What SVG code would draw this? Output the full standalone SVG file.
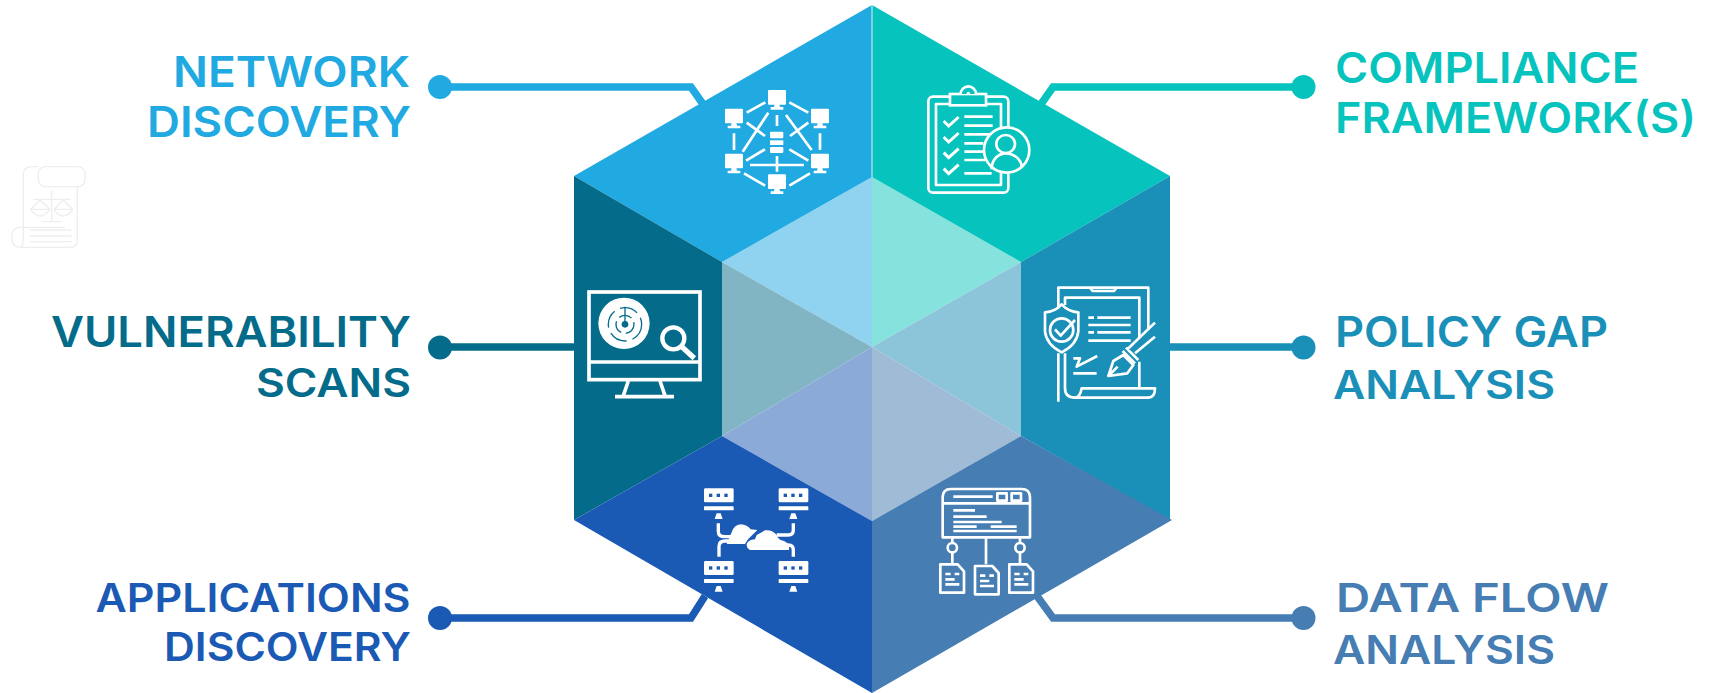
<svg xmlns="http://www.w3.org/2000/svg" xmlns:xlink="http://www.w3.org/1999/xlink" width="1712" height="693" viewBox="0 0 1712 693">
<style>
text{font-family:"Inter","Open Sans","Liberation Sans",sans-serif;font-weight:600;font-size:42px}
.s{font-size:39px}
.ic{fill:none;stroke:#fff;stroke-width:8;stroke-linecap:butt;stroke-linejoin:round}
.f{fill:#fff;stroke:none}
.con{fill:none;stroke-width:7.5;stroke-linejoin:miter}
</style>
<defs>
<g id="mon"><rect x="-27" y="-27" width="54" height="44" rx="3" class="f"/><path class="f" d="M-7 15H7L9 24H19V32H-19V24H-9Z"/></g>
<g id="srv"><rect x="42" y="40" width="89" height="42" rx="4" class="f"/><rect x="42" y="94" width="89" height="12" rx="2" class="f"/><path class="f" d="M80 115H92L98 132H74Z"/><rect x="57" y="56" width="10" height="10" fill="#1a5ab4"/><rect x="80" y="56" width="10" height="10" fill="#1a5ab4"/><rect x="103" y="56" width="10" height="10" fill="#1a5ab4"/></g>
<path id="chk" d="M-21 -2L-6 13L24 -14" fill="none" stroke="#fff" stroke-width="9"/>
<g id="doc"><path class="ic" d="M3 3H55L74 24V88H3Z"/><path class="ic" d="M18 32H34M46 32H60M18 48H46M18 63H60"/></g>
</defs>
<g id="connectors" class="con">
<path stroke="#21a9e1" d="M440 87H691L705 107"/>
<path stroke="#06c3bd" d="M1303 87H1053L1039 107"/>
<path stroke="#046c8a" d="M440 347H580"/>
<path stroke="#1a90b9" d="M1303 347H1165"/>
<path stroke="#1a5ab4" d="M440 618H691L705 596"/>
<path stroke="#467db3" d="M1303 618H1053L1037 596"/>
<g stroke="none">
<circle cx="440" cy="87" r="12" fill="#21a9e1"/>
<circle cx="1303.5" cy="87" r="12" fill="#06c3bd"/>
<circle cx="440" cy="347.500" r="12" fill="#046c8a"/>
<circle cx="1303.5" cy="347.500" r="12" fill="#1a90b9"/>
<circle cx="440" cy="618" r="12" fill="#1a5ab4"/>
<circle cx="1303.5" cy="618" r="12" fill="#467db3"/>
</g>
</g>
<g id="core">
<polygon points="872,177 722,262 872,347" fill="#8fd3f0"/>
<polygon points="872,177 1021,262 872,347" fill="#85e2dc"/>
<polygon points="722,262 872,347 722,436" fill="#82b5c4"/>
<polygon points="1021,262 872,347 1021,436" fill="#8cc4d9"/>
<polygon points="722,436 872,347 872,521" fill="#8baad8"/>
<polygon points="1021,436 872,347 872,521" fill="#9fbbd6"/>
</g>
<g id="network-discovery">
<polygon points="872,5 574,176 722,262 872,177" fill="#21a9e1"/>
<text x="173" y="87" textLength="237" lengthAdjust="spacingAndGlyphs" fill="#21a9e1">NETWORK</text>
<text x="147" y="137" textLength="264" lengthAdjust="spacingAndGlyphs" fill="#21a9e1">DISCOVERY</text>
<g transform="translate(700 70) scale(.3333)">
<use href="#mon" x="231" y="87"/><use href="#mon" x="102" y="143"/><use href="#mon" x="360" y="143"/><use href="#mon" x="102" y="278"/><use href="#mon" x="360" y="278"/><use href="#mon" x="231" y="340"/>
<path class="ic" d="M140 128L196 97M268 97L325 128M102 190V240M360 190V240M132 310L195 347M268 347L330 310M128 245L205 128M258 135L335 240M140 158L195 198M325 158L270 198M231 135V168M138 272L195 238M268 238L325 272M150 285H312M231 258V305"/>
<rect x="210" y="185" width="40" height="20" rx="4" class="f"/><rect x="210" y="211" width="40" height="14" class="f"/><rect x="210" y="231" width="40" height="18" rx="4" class="f"/>
</g>
</g>
<g id="compliance-frameworks">
<polygon points="872,5 1170,176 1021,262 872,177" fill="#06c3bd"/>
<text x="1335" y="83" textLength="304" lengthAdjust="spacingAndGlyphs" fill="#06c3bd">COMPLIANCE</text>
<text x="1335" y="133" textLength="361" lengthAdjust="spacingAndGlyphs" fill="#06c3bd">FRAMEWORK(S)</text>
<g transform="translate(910 70) scale(.3333)">
<rect x="55" y="80" width="240" height="288" rx="14" class="ic"/>
<rect x="78" y="102" width="195" height="243" class="ic"/>
<rect x="120" y="72" width="108" height="34" fill="#06c3bd" stroke="#fff" stroke-width="8"/>
<path d="M152 72A23 23 0 0 1 198 72" fill="#06c3bd" stroke="#fff" stroke-width="8"/>
<circle cx="175" cy="70" r="5" class="f"/>
<use href="#chk" x="122" y="155"/><use href="#chk" x="122" y="203"/><use href="#chk" x="122" y="250"/><use href="#chk" x="122" y="298"/>
<path class="ic" d="M163 140H248M163 167H248M163 193H240M163 220H220M163 245H220M163 270H225M163 310H245"/>
<circle cx="290" cy="240" r="68" fill="#06c3bd" stroke="#fff" stroke-width="8"/>
<ellipse cx="287" cy="222" rx="28" ry="27" class="ic"/>
<path class="ic" d="M245 298C245 265 268 250 287 250C308 250 335 265 335 292"/>
</g>
</g>
<g id="vulnerability-scans">
<polygon points="574,176 722,262 722,436 574,520" fill="#046c8a"/>
<text x="51" y="347" textLength="360" lengthAdjust="spacingAndGlyphs" fill="#046c8a">VULNERABILITY</text>
<text class="s" x="256" y="397" textLength="155" lengthAdjust="spacingAndGlyphs" fill="#046c8a">SCANS</text>
<g transform="translate(570 275) scale(.3333)">
<rect x="57" y="51" width="333" height="263" fill="none" stroke="#fff" stroke-width="11"/>
<path class="ic" stroke-width="11" style="stroke-width:11" d="M57 261H390M175 318L160 362M270 318L285 362M135 365H312"/>
<circle cx="162" cy="145" r="77" class="f"/>
<g fill="none" stroke="#046c8a" stroke-width="4">
<circle cx="165" cy="148" r="27" stroke-dasharray="40 14"/>
<circle cx="165" cy="148" r="50" stroke-dasharray="55 18"/>
<path d="M165 95V148"/>
</g>
<circle cx="165" cy="148" r="10" fill="#046c8a"/>
<circle cx="310" cy="190" r="33" fill="none" stroke="#fff" stroke-width="13"/>
<path d="M335 215L373 250" stroke="#fff" stroke-width="16" fill="none"/>
</g>
</g>
<g id="policy-gap-analysis">
<polygon points="1170,176 1021,262 1021,436 1170,520" fill="#1a90b9"/>
<text x="1335" y="347" textLength="273" lengthAdjust="spacingAndGlyphs" fill="#1a90b9">POLICY GAP</text>
<text class="s" x="1333" y="399" textLength="222" lengthAdjust="spacingAndGlyphs" fill="#1a90b9">ANALYSIS</text>
<g transform="translate(1020 275) scale(.3333)">
<g class="ic">
<path d="M115 100V38H385V165M135 90V68H358V190M210 38L218 48H282L290 38M115 235V380M135 235V340Q135 368 165 368H385Q405 368 405 340H185Q180 368 165 368M358 260V340"/>
<path d="M125 88Q105 110 75 112V170Q80 210 125 232Q170 210 175 170V112Q145 110 125 88Z"/>
<circle cx="125" cy="165" r="35"/>
<path d="M105 163L122 182L165 135M205 128H222M232 128H332M205 150H332M205 172H222M232 172H332M205 197H332M320 225L405 143M345 235L405 185M308 228L345 265M318 218L355 255M265 303L280 258L310 240L340 270L322 295ZM265 303L293 275M160 295H230M160 250H180L170 275L232 243"/>
</g>
</g>
</g>
<g id="applications-discovery">
<polygon points="574,520 722,436 872,521 872,693" fill="#1a5ab4"/>
<text class="s" x="95.500" y="612" textLength="315" lengthAdjust="spacingAndGlyphs" fill="#1a5ab4">APPLICATIONS</text>
<text class="s" x="164" y="661" textLength="247" lengthAdjust="spacingAndGlyphs" fill="#1a5ab4">DISCOVERY</text>
<g transform="translate(690 475) scale(.3333)">
<use href="#srv"/><use href="#srv" x="224"/><use href="#srv" y="218"/><use href="#srv" x="224" y="218"/>
<path class="ic" style="stroke-width:10" d="M85 145V170Q85 185 105 185H125M87 245V215Q87 198 105 198H150M310 145V165Q310 180 295 180H260M310 245V225Q310 210 295 210H260"/>
<path class="f" d="M110 207L125 172Q132 150 152 148Q172 150 182 163L202 165L187 180Q172 192 165 207Z"/>
<path class="f" d="M180 225Q165 215 172 203Q182 193 195 193L200 180L225 166Q247 163 260 180Q264 195 282 198Q300 205 297 225Z"/>
</g>
</g>
<g id="data-flow-analysis">
<polygon points="1172,520 1021,436 872,521 872,693" fill="#467db3"/>
<text class="s" x="1336" y="612" textLength="273" lengthAdjust="spacingAndGlyphs" fill="#467db3">DATA FLOW</text>
<text class="s" x="1333" y="664" textLength="222" lengthAdjust="spacingAndGlyphs" fill="#467db3">ANALYSIS</text>
<g transform="translate(920 475) scale(.3333)">
<path class="ic" d="M68 187V67Q68 42 93 42H305Q330 42 330 67V187ZM68 85H330"/>
<rect x="232" y="55" width="28" height="22" class="ic"/><rect x="275" y="55" width="28" height="22" class="ic"/>
<path class="ic" d="M100 65H218M100 106H165M100 125H200M100 141H245M100 155H170M212 155H290M100 168H290M97 187V205M97 232V265M198 187V268M300 187V205M300 232V265"/>
<circle cx="97" cy="218" r="14" class="ic"/><circle cx="300" cy="218" r="14" class="ic"/>
<use href="#doc" x="58" y="265"/><use href="#doc" x="162" y="270"/><use href="#doc" x="265" y="265"/>
</g>
</g>
<path id="center-seam" d="M872 5V177" stroke="#d8f3f5" stroke-width="1" fill="none"/>
<g id="faint-scroll" transform="translate(0 150) scale(.3333)" fill="none" stroke="#eeeeee" stroke-width="4">
<rect x="115" y="50" width="140" height="60" rx="20"/>
<path d="M70 240V75Q70 50 95 50H115M232 110V270Q232 292 210 292H60Q35 292 35 262Q35 232 60 232H195M70 240V262Q70 292 60 292M155 120V215M125 215H185M100 148H212"/>
<path d="M92 178L120 150L150 178Q135 198 120 198Q105 198 92 178ZM162 178L190 150L218 178Q205 198 190 198Q175 198 162 178ZM92 178H150M162 178H218M90 240H215M90 258H215M90 275H215"/>
</g>
</svg>
